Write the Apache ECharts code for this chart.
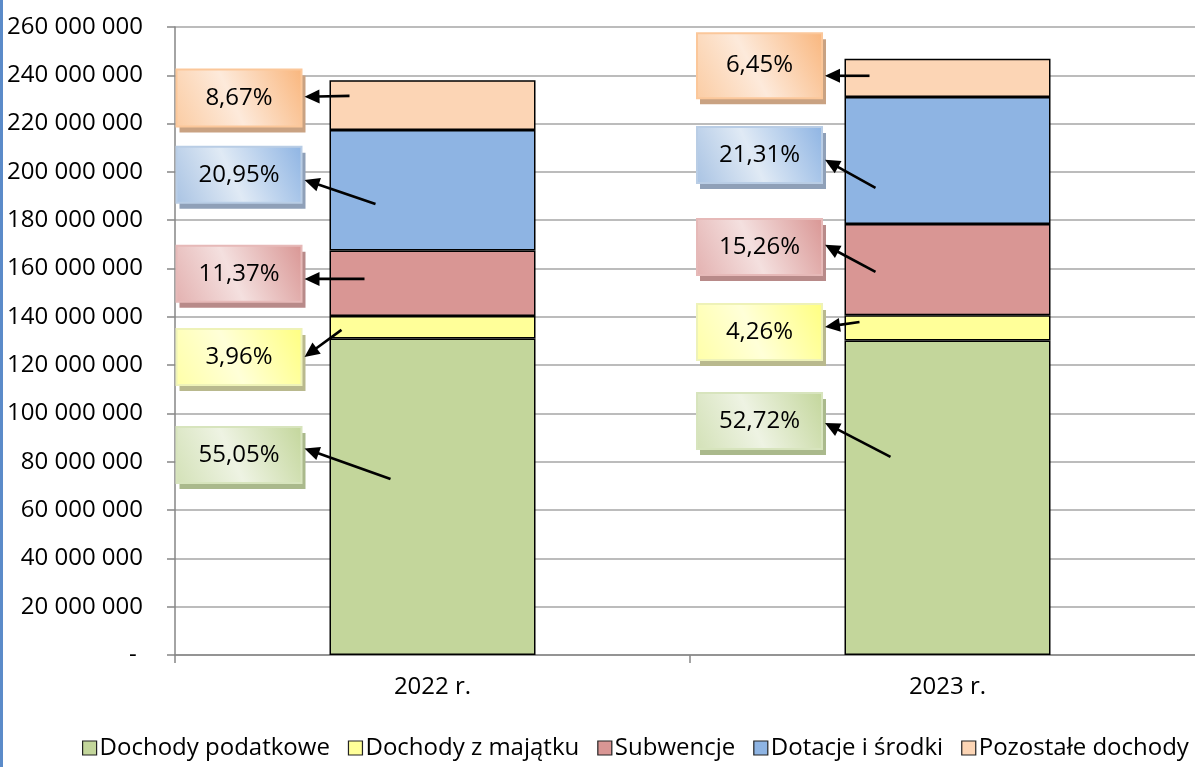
<!DOCTYPE html>
<html><head><meta charset="utf-8">
<script src="https://cdn.jsdelivr.net/npm/echarts@6/dist/echarts.min.js"></script>
<style>html,body{margin:0;padding:0;background:#fff}#c{width:1195px;height:767px}</style>
</head><body><div id="c"></div>
<script>
// ---- data ----
const categories = ['2022 r.', '2023 r.'];
const seriesNames = ['Dochody podatkowe', 'Dochody z majątku', 'Subwencje', 'Dotacje i środki', 'Pozostałe dochody'];
const podatkowe = [131000000, 130200000];
const majatek   = [9400000, 10500000];
const subwencje = [27100000, 37700000];
const dotacje   = [49900000, 52600000];
const pozostale = [20600000, 15900000];
const pctLabels = [
  ['55,05%', '3,96%', '11,37%', '20,95%', '8,67%'],
  ['52,72%', '4,26%', '15,26%', '21,31%', '6,45%']
];
const yTicks = { min: 0, max: 260000000, interval: 20000000 };

// ---- annotation layout (value units for y, px for x offsets) ----
const boxCenterY = [
  [82.8e6, 123.4e6, 157.8e6, 198.8e6, 230.6e6],
  [96.9e6, 133.7e6, 168.9e6, 207.0e6, 244.0e6]
];
const boxH = [
  [56, 56, 56, 56, 57],
  [56, 56, 56, 56, 65]
];
const boxDx = [-90.5, -85]; // box centre offset from bar left edge, px
const arrowFromY = [
  [72.9e6, 134.6e6, 155.7e6, 186.7e6, 231.5e6],
  [82.0e6, 137.9e6, 158.6e6, 193.4e6, 239.8e6]
];
const arrowToY = [
  [85.5e6, 123.4e6, 155.7e6, 196.7e6, 231.1e6],
  [96.1e6, 135.8e6, 169.8e6, 205.0e6, 239.8e6]
];
const arrowFromDx = [ // px offset from bar left edge
  [61, 12, 35, 46, 20],
  [46, 15, 31, 31, 25]
];

const colors = ['#c3d69b', '#ffff99', '#d99694', '#8eb4e3', '#fcd5b5'];
const boxGrad = [
  ['#c3d69b', '#eef3e3', '#d3e1b7'],
  ['#ffff80', '#ffffd8', '#ffffa8'],
  ['#d99694', '#f4e0df', '#e3b1b0'],
  ['#8eb4e3', '#e0eaf5', '#a9c3e3'],
  ['#f9b67d', '#fdeadb', '#fbcca3']
];
const boxBorder = ['#d7e4bd', '#eef2b8', '#e6b9b8', '#b9cde5', '#fbc79a'];
const boxShadow = ['#aab98c', '#b9b98e', '#b88a89', '#8fa0b8', '#c9a282'];

const FONT = "'Open Sans', sans-serif";
const values = [podatkowe, majatek, subwencje, dotacje, pozostale];

const barSeries = seriesNames.map((n, i) => ({
  name: n, type: 'bar', stack: 'total', barWidth: '40%',
  data: values[i],
  itemStyle: { color: colors[i], borderColor: '#000', borderWidth: 1.5 },
  emphasis: { disabled: true }
}));

const annData = [];
for (let c = 0; c < categories.length; c++)
  for (let s = 0; s < seriesNames.length; s++)
    annData.push([c, boxCenterY[c][s], arrowFromY[c][s], s, arrowToY[c][s]]);

function renderAnn(params, api) {
  const c = api.value(0), s = api.value(3);
  const band = api.size([1, 0])[0];
  const center = api.coord([c, 0])[0];
  const barW = band * 0.4;
  const barLeft = center - barW / 2;
  const bcy = api.coord([c, api.value(1)])[1];
  const bcx = barLeft + boxDx[c];
  const bw = 125, bh = boxH[c][s];
  const bx = bcx - bw / 2, by = bcy - bh / 2;
  const fx = barLeft + arrowFromDx[c][s];
  const fy = api.coord([c, api.value(2)])[1];
  const tx = bx + bw + 3;
  const tipY = api.coord([c, api.value(4)])[1];
  const dx = tx - fx, dy = tipY - fy, L = Math.sqrt(dx * dx + dy * dy);
  const ux = dx / L, uy = dy / L, ah = 15, aw = 7;
  const baseX = tx - ux * ah, baseY = tipY - uy * ah;
  return {
    type: 'group', children: [
      { type: 'rect', shape: { x: bx + 3, y: by + 6, width: bw + 1, height: bh }, style: { fill: boxShadow[s] } },
      { type: 'rect', shape: { x: bx, y: by, width: bw, height: bh },
        style: { fill: new echarts.graphic.LinearGradient(1, 0, 0, 1, [
          { offset: 0, color: boxGrad[s][0] }, { offset: 0.55, color: boxGrad[s][1] }, { offset: 1, color: boxGrad[s][2] }]),
          stroke: boxBorder[s], lineWidth: 2 } },
      { type: 'text', x: bcx, y: bcy, style: { text: pctLabels[c][s], fill: '#000', font: '24px ' + FONT, align: 'center', verticalAlign: 'middle' } },
      { type: 'line', shape: { x1: fx, y1: fy, x2: baseX + ux * 2, y2: baseY + uy * 2 }, style: { stroke: '#000', lineWidth: 2.6 } },
      { type: 'polygon', shape: { points: [[tx, tipY], [baseX - uy * aw, baseY + ux * aw], [baseX + uy * aw, baseY - ux * aw]] }, style: { fill: '#000' } }
    ]
  };
}

const chart = echarts.init(document.getElementById('c'), null, { renderer: 'canvas' });
chart.setOption({
  animation: false,
  backgroundColor: '#fff',
  textStyle: { fontFamily: FONT },
  grid: { left: 175, width: 1030, top: 27, height: 628, containLabel: false, outerBoundsMode: 'none' },
  legend: {
    type: 'plain', orient: 'horizontal', top: 736, left: 82, width: 1200, padding: 0,
    icon: 'rect', itemWidth: 14, itemHeight: 14, itemGap: 18,
    itemStyle: { borderColor: '#222', borderWidth: 1.2 },
    textStyle: { fontSize: 24, color: '#000', fontFamily: FONT, padding: [0, 0, 0, -2] },
    data: seriesNames
  },
  xAxis: {
    type: 'category', data: categories,
    axisLine: { lineStyle: { color: '#868686', width: 1.5 } },
    axisTick: { show: true, length: 8, lineStyle: { color: '#868686', width: 1.5 } },
    axisLabel: { color: '#000', fontSize: 24, margin: 20, fontFamily: FONT }
  },
  yAxis: {
    type: 'value', min: yTicks.min, max: yTicks.max, interval: yTicks.interval,
    axisLine: { show: true, lineStyle: { color: '#868686', width: 1.5 } },
    axisTick: { show: true, length: 8, lineStyle: { color: '#868686', width: 1.5 } },
    splitLine: { lineStyle: { color: '#a6a6a6', width: 1.5 } },
    axisLabel: {
      color: '#000', fontSize: 24, margin: 32, fontFamily: FONT,
      formatter: v => v === 0 ? '- ' : String(v).replace(/\B(?=(\d{3})+(?!\d))/g, ' ')
    }
  },
  series: barSeries.concat([{
    type: 'custom', name: 'ann', renderItem: renderAnn, data: annData, z: 10,
    encode: { x: 0, y: 1 }, silent: true
  }]),
  graphic: [{ type: 'rect', left: 0, top: 0, shape: { width: 3, height: 767 }, style: { fill: '#5b8bc9' } }]
});
</script></body></html>
